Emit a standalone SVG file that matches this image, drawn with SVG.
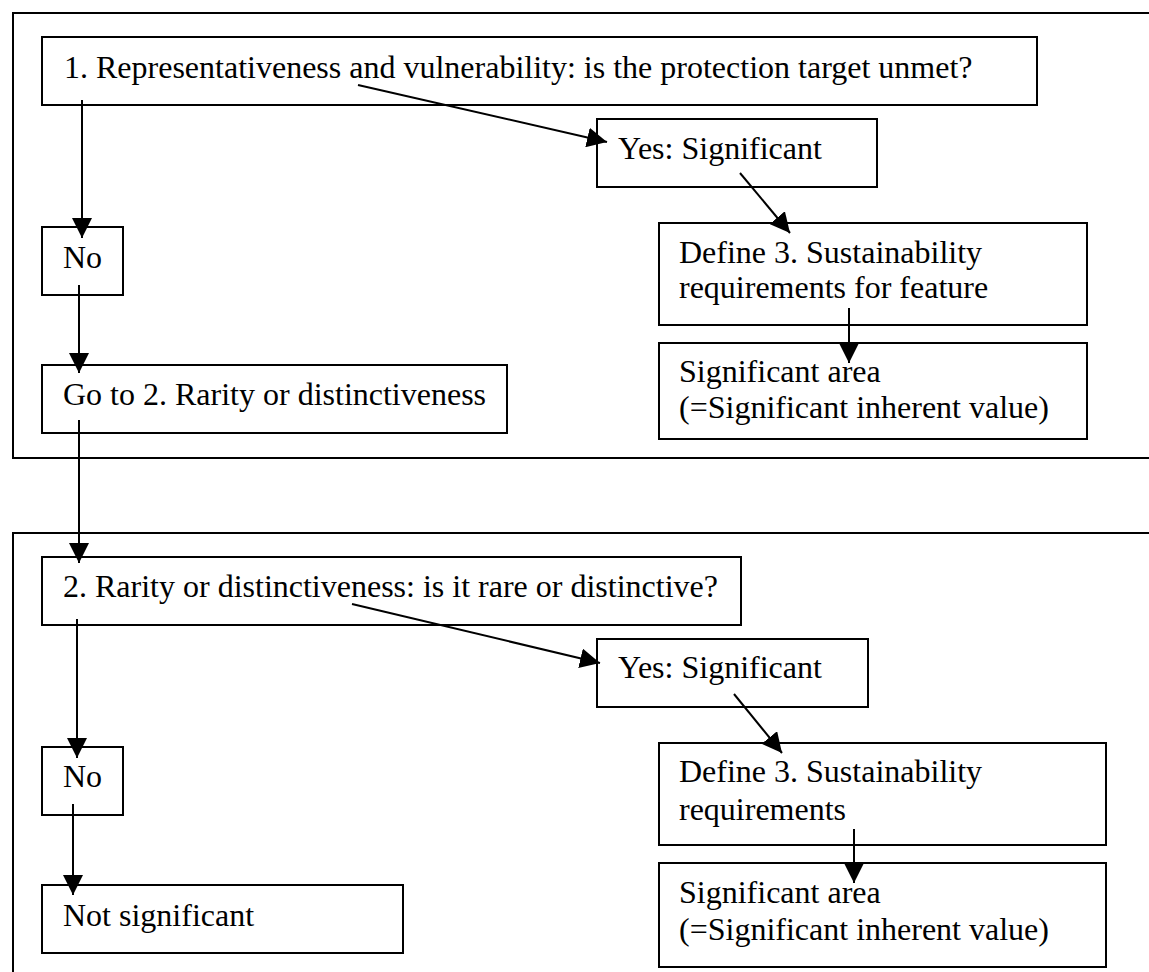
<svg xmlns="http://www.w3.org/2000/svg" width="1149" height="972" viewBox="0 0 1149 972">
<style>
.frame{fill:none;stroke:#000;stroke-width:2}
.box{fill:#fff;stroke:#000;stroke-width:2}
.t{font-family:"Liberation Serif","Times New Roman",serif;font-size:32px;fill:#000}
.c{fill:none;stroke:#000;stroke-width:2;marker-end:url(#ah)}
</style>
<defs>
<marker id="ah" markerUnits="userSpaceOnUse" markerWidth="20" markerHeight="20" refX="20" refY="10" orient="auto" viewBox="0 0 20 20">
<path d="M0,0 L20,10 L0,20 z" fill="#000"/>
</marker>
</defs>
<rect width="1149" height="972" fill="#fff"/>
<g id="frame1"><rect class="frame" x="13" y="13" width="1150" height="445"/></g>
<g id="frame2"><rect class="frame" x="13" y="533" width="1150" height="460"/></g>

<g id="q1"><rect class="box" x="42" y="37" width="995" height="68"/><text class="t" x="64" y="78">1. Representativeness and vulnerability: is the protection target unmet?</text></g>
<g id="yes1"><rect class="box" x="597" y="119" width="280" height="68"/><text class="t" x="618" y="159">Yes: Significant</text></g>
<g id="no1"><rect class="box" x="42" y="227" width="81" height="68"/><text class="t" x="63" y="268">No</text></g>
<g id="define1"><rect class="box" x="659" y="223" width="428" height="102"/><text class="t" x="679" y="263">Define 3. Sustainability</text><text class="t" x="679" y="298">requirements for feature</text></g>
<g id="area1"><rect class="box" x="659" y="343" width="428" height="96"/><text class="t" x="679" y="382">Significant area</text><text class="t" x="679" y="418">(=Significant inherent value)</text></g>
<g id="goto2"><rect class="box" x="42" y="365" width="465" height="68"/><text class="t" x="63" y="405">Go to 2. Rarity or distinctiveness</text></g>

<g id="q2"><rect class="box" x="42" y="557" width="699" height="68"/><text class="t" x="63" y="597">2. Rarity or distinctiveness: is it rare or distinctive?</text></g>
<g id="yes2"><rect class="box" x="597" y="639" width="271" height="68"/><text class="t" x="618" y="678">Yes: Significant</text></g>
<g id="no2"><rect class="box" x="42" y="747" width="81" height="68"/><text class="t" x="63" y="787">No</text></g>
<g id="define2"><rect class="box" x="659" y="743" width="447" height="102"/><text class="t" x="679" y="782">Define 3. Sustainability</text><text class="t" x="679" y="820">requirements</text></g>
<g id="area2"><rect class="box" x="659" y="863" width="447" height="104"/><text class="t" x="679" y="903">Significant area</text><text class="t" x="679" y="940">(=Significant inherent value)</text></g>
<g id="notsig"><rect class="box" x="42" y="885" width="361" height="68"/><text class="t" x="63" y="926">Not significant</text></g>

<g id="connectors">
<line class="c" x1="82" y1="100" x2="82" y2="238"/>
<line class="c" x1="79" y1="285" x2="79" y2="373"/>
<line class="c" x1="79" y1="420" x2="79" y2="563"/>
<line class="c" x1="358" y1="85" x2="607" y2="142"/>
<line class="c" x1="740" y1="173" x2="790" y2="233"/>
<line class="c" x1="849" y1="308" x2="849" y2="363"/>
<line class="c" x1="77" y1="619" x2="77" y2="758"/>
<line class="c" x1="73" y1="804" x2="73" y2="895"/>
<line class="c" x1="352" y1="604" x2="600" y2="663"/>
<line class="c" x1="734" y1="694" x2="782" y2="753"/>
<line class="c" x1="854" y1="829" x2="854" y2="883"/>
</g>
</svg>
